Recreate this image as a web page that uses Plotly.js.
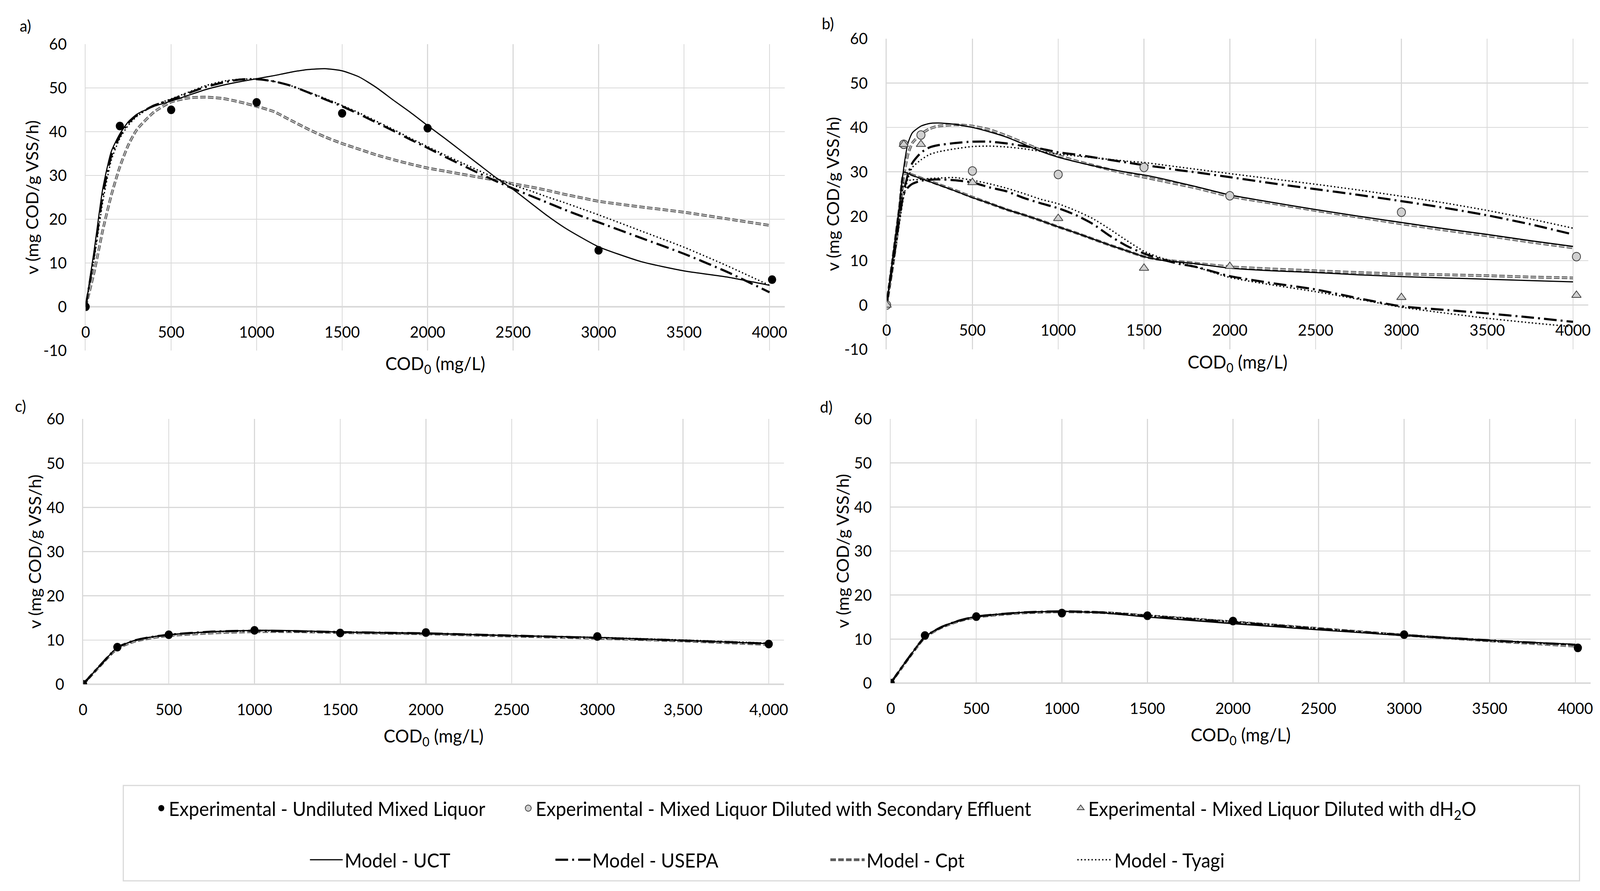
<!DOCTYPE html>
<html><head><meta charset="utf-8">
<script src="https://cdn.plot.ly/plotly-3.0.1.min.js"></script>
<style>html,body{margin:0;padding:0;background:#fff;overflow:hidden}#chart{width:4295px;height:2280px;transform-origin:0 0}</style>
</head><body><div id="chart"></div>
<script>
// ---------- Experimental data ----------
const expA_x = [0, 200, 500, 1000, 1500, 2000, 3000, 4015];
const expA_y = [0, 41.3, 45.0, 46.7, 44.2, 40.8, 12.9, 6.2];

const expB_SE_x = [0, 100, 200, 500, 1000, 1500, 2000, 3000, 4020];
const expB_SE_y = [0, 36.2, 38.3, 30.2, 29.4, 31.0, 24.6, 20.9, 10.9];
const expB_DW_x = [0, 100, 200, 500, 1000, 1500, 2000, 3000, 4020];
const expB_DW_y = [0, 36.2, 36.2, 27.6, 19.5, 8.3, 8.7, 1.7, 2.2];

const expC_x = [0, 200, 500, 1000, 1500, 2000, 3000, 4000];
const expC_y = [0, 8.4, 11.2, 12.2, 11.6, 11.7, 10.8, 9.1];

const expD_x = [0, 200, 500, 1000, 1500, 2000, 3000, 4015];
const expD_y = [0, 10.8, 15.1, 15.9, 15.3, 14.1, 11.0, 8.0];

// ---------- Model curves, panel a ----------
const modA_x = [0,50,100,150,200,250,300,400,500,600,700,800,900,1000,1100,1200,1300,1400,1500,1600,1700,1800,1900,2000,2100,2200,2300,2400,2500,2600,2700,2800,2900,3000,3250,3500,3750,4000];
const uctA   = [0,13,27,35.5,39.5,42.3,44,45.8,47,48.3,49.6,50.6,51.4,52.1,52.8,53.6,54.2,54.4,53.9,52.5,50.1,47.2,44.4,41.4,38.5,35.5,32.5,29.5,26.8,23.8,20.8,18.1,15.8,13.7,10.3,8.2,6.8,4.9];
const usepaA = [0,12,25.5,34.5,39,42,43.8,46,47.3,48.8,50.2,51.2,51.9,52,51.5,50.5,49,47.4,45.8,44,42.1,40.2,38.2,36.3,34.3,32.4,30.5,28.7,27,25.4,23.8,22.2,20.7,19.3,15.7,12.1,8,3.3];
const cptA   = [0,8,17.5,25.5,32,37,40.5,44.5,46.8,47.7,47.9,47.6,46.8,45.8,44.6,42.6,40.6,38.8,37.3,36,34.7,33.6,32.6,31.7,31,30.3,29.6,28.9,28.1,27.4,26.6,25.7,24.9,24.1,22.8,21.6,20.1,18.6];
const tyagiA = [0,11,24,33.5,38.5,41.5,43.5,46,47.5,49,50.5,51.5,52,52,51.5,50.5,49.1,47.6,46,44.3,42.4,40.5,38.5,36.6,34.7,32.9,31.1,29.4,27.8,26.5,25.1,23.8,22.4,21,17.3,13.6,9.4,4.9];

// ---------- Model curves, panel b ----------
const modB_x = [0,25,50,75,100,125,150,200,250,300,400,500,600,700,800,900,1000,1100,1200,1300,1400,1500,1600,1700,1800,2000,2250,2500,2750,3000,3250,3500,3750,4000];
// diluted with secondary effluent
const uctB_SE   = [0,7,14,22,31,36.5,38.8,40.3,40.9,41,40.7,40,39,37.8,36.2,34.6,33.3,32.3,31.4,30.6,29.9,29.3,28.5,27.6,26.7,24.8,23.1,21.5,20,18.6,17.2,15.9,14.5,13.2];
const usepaB_SE = [0,6.5,13,19.5,25.5,29.5,32,34.3,35.5,36,36.5,36.8,36.8,36.4,35.8,35.2,34.4,33.9,33.3,32.7,32.1,31.5,31,30.4,29.9,28.8,27.4,26.1,24.8,23.4,21.9,20.2,18.2,15.9];
const cptB_SE   = [0,6,12.5,20,29,34,36.5,38.5,39.7,40.3,40.6,40.3,39.5,38.1,36.5,34.9,33.7,32.5,31.5,30.5,29.6,28.8,28,27.2,26.4,24.5,22.9,21.3,19.8,18.3,16.9,15.6,14.2,12.9];
const tyagiB_SE = [0,6,12,18.5,24.5,28.5,31,32.7,33.9,34.5,35.2,35.7,35.8,35.6,35.2,34.6,34,33.6,33.2,32.8,32.4,32.1,31.6,31.1,30.6,29.6,28.4,27.2,25.9,24.5,23,21.3,19.4,17.3];
// diluted with dH2O
const uctB_DW   = [0,7.5,15,22.5,30,29.6,29.2,28.5,27.8,27.1,25.7,24.2,22.9,21.5,20.3,19,17.6,16.3,14.9,13.5,12.2,10.9,10.1,9.7,9.3,8.3,7.7,7.3,6.8,6.4,6.1,5.8,5.5,5.2];
const usepaB_DW = [0,7,14,20.5,25,26.5,27.3,28,28.2,28.3,28.1,27.6,26.5,25.6,24.1,22.9,21.8,20.3,18.3,15.6,13.3,11.6,10.3,9.3,8.6,6.5,4.9,3.5,1.5,-0.3,-1.1,-1.9,-2.8,-3.8];
const cptB_DW   = [0,7.3,14.6,22,29.5,29.6,29.3,28.6,27.9,27.2,25.8,24.3,22.9,21.5,20.3,19,17.6,16.3,14.9,13.5,12.2,10.9,10.2,9.8,9.4,8.6,8.1,7.7,7.3,7,6.8,6.6,6.3,6.1];
const tyagiB_DW = [0,7,14,21,27.5,28,28.2,28.3,28.5,28.6,28.7,28.1,27.3,26.3,25.1,23.8,22.8,21.3,19.5,17.1,14.5,12.1,10.6,9.6,8.6,6.2,4.5,3,1.3,-0.5,-1.8,-3,-4,-4.9];

// ---------- Model curves, panels c and d ----------
const modCD_x = [0,100,200,300,400,500,750,1000,1250,1500,2000,2500,3000,3500,4000];
const uctC   = [0,4.3,8.3,9.9,10.7,11.2,11.9,12.2,12.1,11.8,11.5,11.0,10.6,9.9,9.2];
const usepaC = [0,4.3,8.3,9.9,10.7,11.2,11.9,12.1,12.0,11.8,11.5,11.0,10.5,9.9,9.2];
const cptC   = [0,4.2,8.1,9.7,10.5,11.0,11.6,11.9,11.9,11.7,11.4,10.9,10.4,9.8,9.0];
const tyagiC = [0,4.3,8.3,9.9,10.7,11.2,11.8,12.1,12.0,11.8,11.5,11.0,10.6,10.0,9.3];
const uctD   = [0,5.5,10.5,12.8,14.2,15.1,16.0,16.3,15.9,15.0,13.5,12.1,10.8,9.7,8.8];
const usepaD = [0,5.5,10.5,12.8,14.2,15.1,16.0,16.3,16.0,15.2,13.8,12.3,10.9,9.7,8.7];
const cptD   = [0,5.4,10.4,12.7,14.1,15.0,15.9,16.2,16.0,15.3,13.9,12.4,10.9,9.6,8.4];
const tyagiD = [0,5.5,10.5,12.8,14.2,15.1,16.0,16.3,16.1,15.4,14.0,12.4,10.9,9.6,8.6];

// ---------- Labels ----------
const xTickVals = [0,500,1000,1500,2000,2500,3000,3500,4000];
const xTickTextC = ['0','500','1000','1500','2000','2500','3000','3,500','4,000'];
const yTickVals = [-10,0,10,20,30,40,50,60];
const yTickText = ['-10','0','10','20','30','40','50','60'];
const panelLabels = ['a)','b)','c)','d)'];
const seriesNames = {
  expUnd: 'Experimental - Undiluted Mixed Liquor',
  expSE: 'Experimental - Mixed Liquor Diluted with Secondary Effluent',
  expDW: 'Experimental - Mixed Liquor Diluted with dH<sub>2</sub>O',
  uct: 'Model - UCT', usepa: 'Model - USEPA', cpt: 'Model - Cpt', tyagi: 'Model - Tyagi'
};

// ---------- Styles ----------
const FONT = 'Lato, "Open Sans", sans-serif';
const lineStyles = {
  uct:   {color:'#000000', width:3, dash:'solid'},
  usepa: {color:'#000000', width:5.5, dash:'34px,11px,5px,11px'},
  cpt:   {color:'#5a5a5a', width:7, dash:'15px,6px'},
  cptIn: {color:'#c4c4c4', width:2.5, dash:'15px,6px'},
  tyagi: {color:'#000000', width:3.5, dash:'3.5px,6px'}
};
const mUnd = {symbol:'circle', size:22, color:'#000000'};
const mSE  = {symbol:'circle', size:22, color:'#d0d0d0', line:{color:'#404040', width:2}};
const mDW  = {symbol:'triangle-up', size:22, color:'#d0d0d0', line:{color:'#404040', width:2}};

const traces = [];
function lineTrace(x, y, key, ax, legendId) {
  traces.push({
    type:'scatter', mode:'lines', x:x, y:y, name:seriesNames[key] || seriesNames.cpt,
    xaxis:'x'+ax, yaxis:'y'+ax, line:Object.assign({shape:'spline', smoothing:0.6}, lineStyles[key]),
    showlegend: !!legendId, legend: legendId || 'legend', hoverinfo:'skip'
  });
}
function cptTrace(x, y, ax, legendId) {
  lineTrace(x, y, 'cpt', ax, legendId);
  lineTrace(x, y, 'cptIn', ax);
}
function markTrace(x, y, key, marker, ax, legendId) {
  traces.push({
    type:'scatter', mode:'markers', x:x, y:y, name:seriesNames[key], marker:marker,
    xaxis:'x'+ax, yaxis:'y'+ax, showlegend: !!legendId, legend: legendId || 'legend'
  });
}
// panel a
cptTrace(modA_x, cptA, '', 'legend6');
lineTrace(modA_x, tyagiA, 'tyagi', '', 'legend7');
lineTrace(modA_x, usepaA, 'usepa', '', 'legend5');
lineTrace(modA_x, uctA, 'uct', '', 'legend4');
markTrace(expA_x, expA_y, 'expUnd', mUnd, '', 'legend');
// panel b
cptTrace(modB_x, cptB_SE, '2'); cptTrace(modB_x, cptB_DW, '2');
lineTrace(modB_x, tyagiB_SE, 'tyagi', '2'); lineTrace(modB_x, tyagiB_DW, 'tyagi', '2');
lineTrace(modB_x, usepaB_SE, 'usepa', '2'); lineTrace(modB_x, usepaB_DW, 'usepa', '2');
lineTrace(modB_x, uctB_SE, 'uct', '2'); lineTrace(modB_x, uctB_DW, 'uct', '2');
markTrace(expB_SE_x, expB_SE_y, 'expSE', mSE, '2', 'legend2');
markTrace(expB_DW_x, expB_DW_y, 'expDW', mDW, '2', 'legend3');
// panel c
cptTrace(modCD_x, cptC, '3'); lineTrace(modCD_x, tyagiC, 'tyagi', '3');
lineTrace(modCD_x, usepaC, 'usepa', '3'); lineTrace(modCD_x, uctC, 'uct', '3');
markTrace(expC_x, expC_y, 'expUnd', mUnd, '3');
// panel d
cptTrace(modCD_x, cptD, '4'); lineTrace(modCD_x, tyagiD, 'tyagi', '4');
lineTrace(modCD_x, usepaD, 'usepa', '4'); lineTrace(modCD_x, uctD, 'uct', '4');
markTrace(expD_x, expD_y, 'expUnd', mUnd, '4');

// ---------- Layout ----------
const W = 4295, H = 2280;
const px = v => v / W, py = v => 1 - v / H;
const GRID = '#d9d9d9';
function xAx(dom, pos, anchor, ticktext) {
  const a = {
    domain: dom, range:[0, 4090], tickmode:'array', tickvals:xTickVals,
    ticktext: ticktext || xTickVals.map(String),
    showgrid:true, gridcolor:GRID, gridwidth:2.5, zeroline:false, showline:false,
    ticks:'', ticklabelstandoff:37, tickfont:{family:FONT, size:41, color:'#000'},
    title:{text:'COD<sub>0</sub> (mg/L)', font:{family:FONT, size:47, color:'#000'},
           standoff: anchor === 'free' ? 42 : 29},
    fixedrange:true
  };
  if (anchor === 'free') { a.anchor = 'free'; a.position = pos; } else { a.anchor = anchor; }
  return a;
}
function yAx(dom, anchor, rng) {
  const keep = yTickVals.map((v, i) => i).filter(i => yTickVals[i] >= rng[0]);
  return {
    domain: dom, anchor: anchor, range: rng, tickmode:'array',
    tickvals: keep.map(i => yTickVals[i]), ticktext: keep.map(i => yTickText[i]),
    showgrid:true, gridcolor:GRID, gridwidth:2.5,
    zeroline:true, zerolinecolor:GRID, zerolinewidth:3.5,
    showline:true, linecolor:GRID, linewidth:2.5,
    ticks:'', ticklabelstandoff:40, tickfont:{family:FONT, size:41, color:'#000'},
    title:{text:'v (mg COD/g VSS/h)', font:{family:FONT, size:44, color:'#000'}, standoff:0},
    fixedrange:true
  };
}
const domA = {x:[px(230), px(2107)], y:[py(897), py(113)]};
const domB = {x:[px(2380), px(4264)], y:[py(894), py(99)]};
const domC = {x:[px(223), px(2105)], y:[py(1751), py(1072)]};
const domD = {x:[px(2391), px(4270)], y:[py(1748), py(1072)]};
const zeroPos = d => d.y[0] + (10/70) * (d.y[1] - d.y[0]);

const legFont = {family:FONT, size:50, color:'#000'};
function leg(xp, yp, iw) {
  return {x:px(xp), y:py(yp), xanchor:'left', yanchor:'middle', orientation:'h',
          bgcolor:'rgba(0,0,0,0)', borderwidth:0, font:legFont, itemwidth:iw || 30,
          itemclick:false, itemdoubleclick:false};
}

const layout = {
  width:W, height:H, margin:{l:0, r:0, t:0, b:0},
  paper_bgcolor:'#ffffff', plot_bgcolor:'#ffffff',
  font:{family:FONT, size:41, color:'#000'},
  showlegend:true,
  xaxis:  xAx(domA.x, zeroPos(domA), 'free'),
  yaxis:  yAx(domA.y, 'x', [-10, 60]),
  xaxis2: xAx(domB.x, zeroPos(domB), 'free'),
  yaxis2: yAx(domB.y, 'x2', [-10, 60]),
  xaxis3: xAx(domC.x, null, 'y3', xTickTextC),
  yaxis3: yAx(domC.y, 'x3', [0, 60]),
  xaxis4: xAx(domD.x, null, 'y4'),
  yaxis4: yAx(domD.y, 'x4', [0, 60]),
  legend:  leg(413, 2068),
  legend2: leg(1398, 2068),
  legend3: leg(2881, 2068),
  legend4: leg(827, 2200, 88),
  legend5: leg(1486, 2200, 94),
  legend6: leg(2224, 2200, 92),
  legend7: leg(2887, 2200, 94),
  shapes: [{type:'rect', xref:'paper', yref:'paper', x0:px(331), x1:px(4240), y0:py(2254), y1:py(2010),
            line:{color:GRID, width:3}, fillcolor:'rgba(0,0,0,0)', layer:'below'}],
  annotations: [
    {text:panelLabels[0], x:px(68), y:py(66)},
    {text:panelLabels[1], x:px(2222), y:py(60)},
    {text:panelLabels[2], x:px(55), y:py(1038)},
    {text:panelLabels[3], x:px(2218), y:py(1041)}
  ].map(a => Object.assign(a, {xref:'paper', yref:'paper', showarrow:false, xanchor:'center', yanchor:'middle',
                                 font:{family:FONT, size:41, color:'#000'}}))
};

// fit the 4295x2280 drawing to the actual viewport (it may be narrower than the window)
const kx = Math.min(window.innerWidth / W, 1), ky = Math.min(window.innerHeight / H, 1);
if (kx < 1 || ky < 1) document.getElementById('chart').style.transform = 'scale(' + kx + ',' + ky + ')';

Plotly.newPlot('chart', traces, layout, {displayModeBar:false, staticPlot:true});
</script></body></html>
